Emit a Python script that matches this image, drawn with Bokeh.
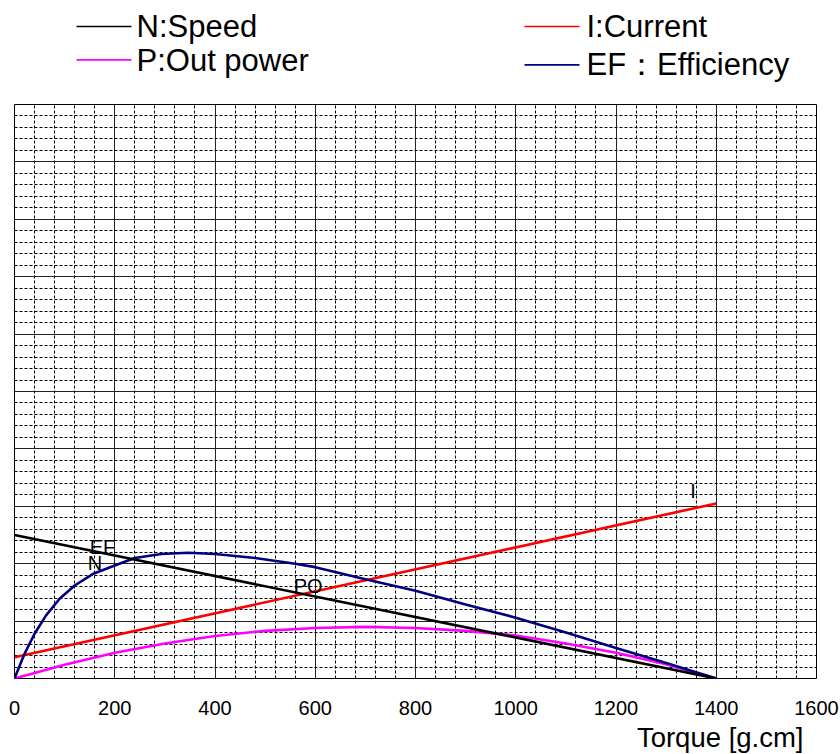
from bokeh.plotting import figure
from bokeh.layouts import column
from bokeh.models import Range1d, FixedTicker, SingleIntervalTicker, Label, Grid, Title
from bokeh.core.properties import value
from bokeh.embed import file_html
from bokeh.resources import INLINE

# ---- data (y in grid units 0..10) ----
torque_speed = [0, 1400]
speed = [2.50, 0.0]

torque_current = [0, 1400]
current = [0.37, 3.05]

torque_power = [0, 100, 200, 300, 400, 500, 600, 700, 800, 900, 1000, 1100, 1200, 1300, 1400]
power = [0.0, 0.24, 0.45, 0.61, 0.74, 0.83, 0.88, 0.90, 0.88, 0.83, 0.75, 0.61, 0.45, 0.25, 0.0]

torque_eff = [0, 20, 40, 63, 90, 120, 156, 200, 240, 293, 346, 400, 480, 560, 600,
              700, 800, 900, 1000, 1100, 1200, 1300, 1400]
efficiency = [0.0, 0.43, 0.78, 1.10, 1.39, 1.62, 1.82, 1.97, 2.10, 2.17, 2.19, 2.17, 2.10, 2.00, 1.94,
              1.73, 1.53, 1.29, 1.06, 0.80, 0.53, 0.27, 0.0]

x_ticks = [0, 200, 400, 600, 800, 1000, 1200, 1400, 1600]

legend_labels = ["N:Speed", "P:Out power", "I:Current", "EF\uff1aEfficiency"]
legend_colors = ["black", "#FF00FF", "#FF0000", "#000080"]
x_title = "Torque [g.cm]"

FONT = "Liberation Sans"
W = 840
LH = 90          # legend strip height
BL, BR = 14, 24  # left / right borders (frames are aligned in the column)

# ---- legend strip (x in page pixels, y in pixels from top) ----
leg = figure(width=W, height=LH, output_backend="svg", toolbar_location=None,
             x_range=Range1d(BL, W - BR), y_range=Range1d(LH, 0),
             x_axis_location=None, y_axis_location=None, min_border=0,
             min_border_left=BL, min_border_right=BR)
leg.outline_line_color = None
for g in leg.grid:
    g.visible = False
seg_x0 = [76, 76, 524, 524]
seg_x1 = [131, 131, 579, 579]
seg_y = [26, 59.3, 26, 64.3]
txt_x = [136, 136, 586, 586]
txt_y = [25.5, 59.5, 25.5, 64]
leg.segment(x0=seg_x0, y0=seg_y, x1=seg_x1, y1=seg_y, line_color=legend_colors, line_width=1.7)
leg.text(x=txt_x, y=txt_y, text=legend_labels, text_font=value(FONT), text_font_size="31px",
         text_color="black", text_baseline="alphabetic", text_align="left")

# ---- main plot ----
p = figure(width=W, height=754 - LH, output_backend="svg", toolbar_location=None,
           x_range=Range1d(0, 1600), y_range=Range1d(0, 10),
           y_axis_location=None,
           min_border_left=BL, min_border_right=BR, min_border_top=14, min_border_bottom=76)
p.background_fill_color = "white"
p.border_fill_color = "white"
p.outline_line_color = "black"
p.outline_line_width = 1

for g in p.grid:
    g.visible = False
xg = Grid(dimension=0, ticker=SingleIntervalTicker(interval=200, num_minor_ticks=5))
yg = Grid(dimension=1, ticker=SingleIntervalTicker(interval=1, num_minor_ticks=5))
for g in (xg, yg):
    g.grid_line_color = "#222222"
    g.grid_line_width = 1
    g.minor_grid_line_color = "black"
    g.minor_grid_line_dash = "3 2"
    g.minor_grid_line_width = 1
    p.add_layout(g, "center")

p.xaxis.ticker = FixedTicker(ticks=x_ticks)
p.xaxis.axis_line_color = None
p.xaxis.major_tick_line_color = None
p.xaxis.minor_tick_line_color = None
p.xaxis.major_tick_out = 0
p.xaxis.major_tick_in = 0
p.xaxis.major_label_standoff = 22
p.xaxis.major_label_text_font = FONT
p.xaxis.major_label_text_font_size = "20px"
p.xaxis.major_label_text_color = "black"

# axis title, right-aligned under the axis
p.add_layout(Title(text=x_title, align="right", offset=13, standoff=4,
                   text_font=FONT, text_font_size="27.5px", text_font_style="normal",
                   text_color="black"), "below")

p.line(torque_current, current, line_color="#FF0000", line_width=2.6)
p.line(torque_power, power, line_color="#FF00FF", line_width=2.6)
p.line(torque_eff, efficiency, line_color="#000080", line_width=2.6)
p.line(torque_speed, speed, line_color="black", line_width=2.6)

for txt, x, y in [("EF", 150, 2.29), ("N", 146, 2.02), ("PO", 557, 1.61), ("I", 1348, 3.27)]:
    p.add_layout(Label(x=x, y=y, text=txt, text_font=FONT, text_font_size="20px",
                       text_color="black", text_baseline="alphabetic"))

layout = column(leg, p, spacing=0)
open("out.html", "w").write(file_html(layout, INLINE))
